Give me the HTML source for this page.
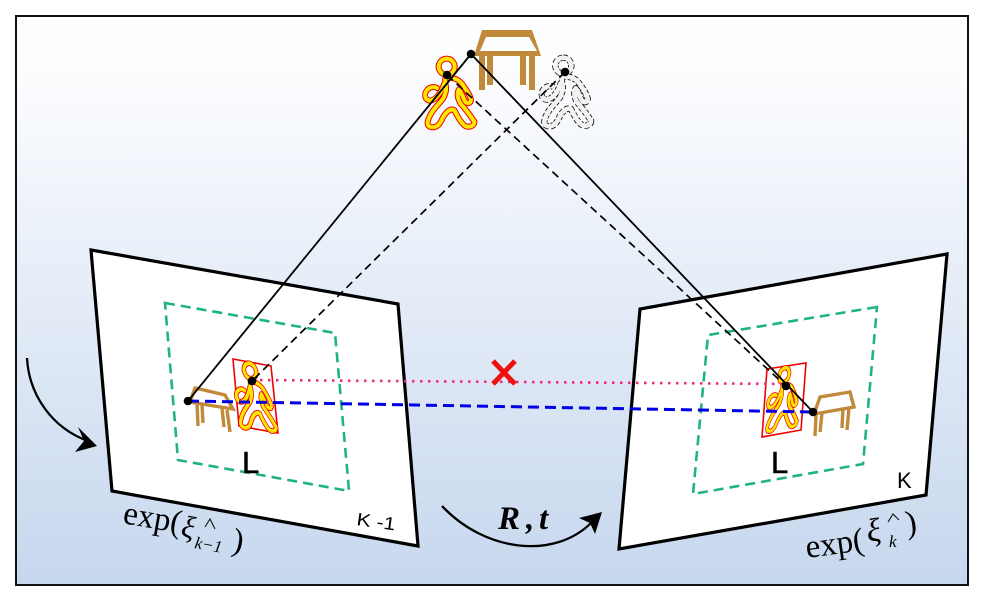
<!DOCTYPE html>
<html><head><meta charset="utf-8"><style>html,body{margin:0;padding:0;background:#fff}svg{display:block}</style></head><body>
<svg width="993" height="603" viewBox="0 0 993 603" xmlns="http://www.w3.org/2000/svg">
<defs>
<linearGradient id="bg" x1="0" y1="0" x2="0" y2="1"><stop offset="0" stop-color="#ffffff"/><stop offset="0.12" stop-color="#fbfcfe"/><stop offset="1" stop-color="#c6d7ee"/></linearGradient>
<path id="body" d="M92 82 C110 82 128 85 140 100 C155 120 165 135 168 150 C166 165 152 160 148 150 C142 135 138 125 132 118 C125 130 128 145 136 160 C150 175 165 195 178 215 C180 228 160 235 148 226 C135 215 125 195 118 180 C105 175 95 185 85 200 C78 215 72 230 55 232 C38 232 35 222 40 208 C50 180 70 165 85 145 C92 130 95 120 92 105 C90 95 90 88 92 82 Z M88 100 C80 125 65 150 45 152 C26 150 26 125 42 115 C50 110 60 110 66 114 M95 26 A24 24 0 1 1 94.9 26 Z"/>
<g id="person" stroke-linejoin="round" stroke-linecap="round" fill="none">
<use href="#body" stroke="#f00000" stroke-width="18"/>
<use href="#body" stroke="#ffe600" stroke-width="12"/>
</g>
</defs>
<rect width="993" height="603" fill="#fff"/>
<rect x="16" y="16" width="952" height="569" fill="url(#bg)" stroke="#111" stroke-width="2"/>

<polygon points="91,250 398,304 418,546 112,491" fill="#fff" stroke="#000" stroke-width="3.2"/>
<polygon points="947,254 640,309 619,549 926,495" fill="#fff" stroke="#000" stroke-width="3.2"/>
<polygon points="165,303 335,333 349,491 178,460" fill="none" stroke="#1fb57d" stroke-width="2.6" stroke-dasharray="10 6"/>
<polygon points="877,307 708,335 693,494 863,464" fill="none" stroke="#1fb57d" stroke-width="2.6" stroke-dasharray="10 6"/>

<!-- top table -->
<g fill="#c08a3a">
<path d="M482 30 H532 L541 56 H474 Z M486 37 L480 51 H537 L529 37 Z" fill-rule="evenodd"/>
<rect x="479" y="55" width="6" height="35"/><rect x="487" y="55" width="6" height="30"/>
<rect x="520" y="55" width="6" height="30"/><rect x="529" y="55" width="6" height="35"/>
</g>

<!-- top person -->
<g transform="translate(415 50) scale(.3333)"><use href="#person"/></g>
<!-- dashed person -->
<g transform="translate(531.7 49) scale(.3333)" fill="none" stroke-linejoin="round">
<use href="#body" stroke="#111" stroke-width="19" stroke-dasharray="11 6"/>
<use href="#body" stroke="#f2f2f2" stroke-width="14"/>
</g>

<!-- left small table -->
<g fill="none" stroke="#c08a3a" stroke-width="3.4">
<path d="M190 402 L195 388 L225 395 L233 409 Z"/>
<path d="M197 403 L198 426 M202 405 L203 423 M222 408 L224 427 M227 410 L230 432"/>
</g>
<!-- left person -->
<polygon points="233,359 271,366 278,433 239,426" fill="#fff" stroke="#f00000" stroke-width="1.6"/>
<g transform="matrix(.253 .035 .03 .32 224.5 351.7)"><use href="#person"/></g>

<!-- right small table -->
<g fill="none" stroke="#c08a3a" stroke-width="3.4">
<path d="M814 414 L820 397 L850 392 L854 407 Z"/>
<path d="M816 415 L815 436 M822 413 L820 432 M843 408 L842 428 M849 408 L847 430"/>
</g>
<!-- right person -->
<polygon points="767,369 806,363 801,430 762,437" fill="#fff" stroke="#f00000" stroke-width="1.6"/>
<g transform="matrix(.21 -.04 -.03 .3 765.8 363.8)"><use href="#person"/></g>

<!-- connectors -->
<path d="M252 380 L786 384" stroke="#ee2a7b" stroke-width="2.6" stroke-dasharray="2.5 5.5" fill="none"/>
<path d="M188 401 L813 412" stroke="#0000e6" stroke-width="3" stroke-dasharray="11 6" fill="none"/>
<path d="M471 54 L188 401 M471 54 L813 412" stroke="#000" stroke-width="1.8" fill="none"/>
<path d="M447 75 L786 386 M565 72 L252 381" stroke="#000" stroke-width="1.7" stroke-dasharray="8 5" fill="none"/>
<g fill="#000"><circle cx="471" cy="54" r="4.3"/><circle cx="447" cy="75" r="4.3"/><circle cx="565" cy="72" r="4.3"/><circle cx="188" cy="401" r="4.3"/><circle cx="252" cy="381" r="4.3"/><circle cx="786" cy="386" r="4.3"/><circle cx="813" cy="412" r="4.3"/></g>
<path d="M493 361 L515 384 M515 361 L493 384" stroke="#f01010" stroke-width="5" fill="none"/>

<!-- arrows -->
<path d="M27 358 C29 395 52 428 88 441" stroke="#000" stroke-width="2.3" fill="none"/>
<polygon points="97,446 75,452 84,441 78,427" fill="#000"/>
<path d="M442 506 C485 552 555 560 592 522" stroke="#000" stroke-width="2.3" fill="none"/>
<polygon points="602,512 595,534 590,523 579,518" fill="#000"/>

<!-- text -->
<text x="242" y="473" font-family="'Liberation Sans',sans-serif" font-size="31" stroke="#000" stroke-width=".6">L</text>
<text x="771" y="473" font-family="'Liberation Sans',sans-serif" font-size="31" stroke="#000" stroke-width=".6">L</text>
<text x="356" y="525" font-family="'Liberation Sans',sans-serif" font-size="18" textLength="39" lengthAdjust="spacingAndGlyphs" transform="rotate(8 356 525)">K -1</text>
<text x="897" y="488" font-family="'Liberation Sans',sans-serif" font-size="22">K</text>
<text x="122" y="523" font-family="'Liberation Serif',serif" font-size="33" transform="rotate(10 122 523)">exp(</text>
<text x="180" y="536" font-family="'Liberation Serif',serif" font-size="31" font-style="italic" transform="rotate(10 180 536)">ξ</text>
<path d="M205 527 L210 519 L215 529" fill="none" stroke="#111" stroke-width="1.1"/>
<text x="194" y="548" font-family="'Liberation Serif',serif" font-size="17" font-style="italic" transform="rotate(10 194 548)">k−1</text>
<text x="231" y="550" font-family="'Liberation Serif',serif" font-size="33" transform="rotate(10 231 550)">)</text>
<text x="498" y="529" font-family="'Liberation Serif',serif" font-size="33" font-style="italic" font-weight="bold">R</text>
<text x="526" y="529" font-family="'Liberation Serif',serif" font-size="33" font-style="italic" font-weight="bold">,</text>
<text x="539" y="529" font-family="'Liberation Serif',serif" font-size="33" font-style="italic" font-weight="bold">t</text>
<text x="807" y="558" font-family="'Liberation Serif',serif" font-size="33" transform="rotate(-8 807 558)">exp(</text>
<text x="868" y="542" font-family="'Liberation Serif',serif" font-size="33" font-style="italic" transform="rotate(-8 868 542)">ξ</text>
<path d="M888 522 L893 514 L899 520" fill="none" stroke="#111" stroke-width="1.1"/>
<text x="889" y="547" font-family="'Liberation Serif',serif" font-size="17" font-style="italic">k</text>
<text x="907" y="534" font-family="'Liberation Serif',serif" font-size="33" transform="rotate(-8 907 534)">)</text>
</svg>
</body></html>
